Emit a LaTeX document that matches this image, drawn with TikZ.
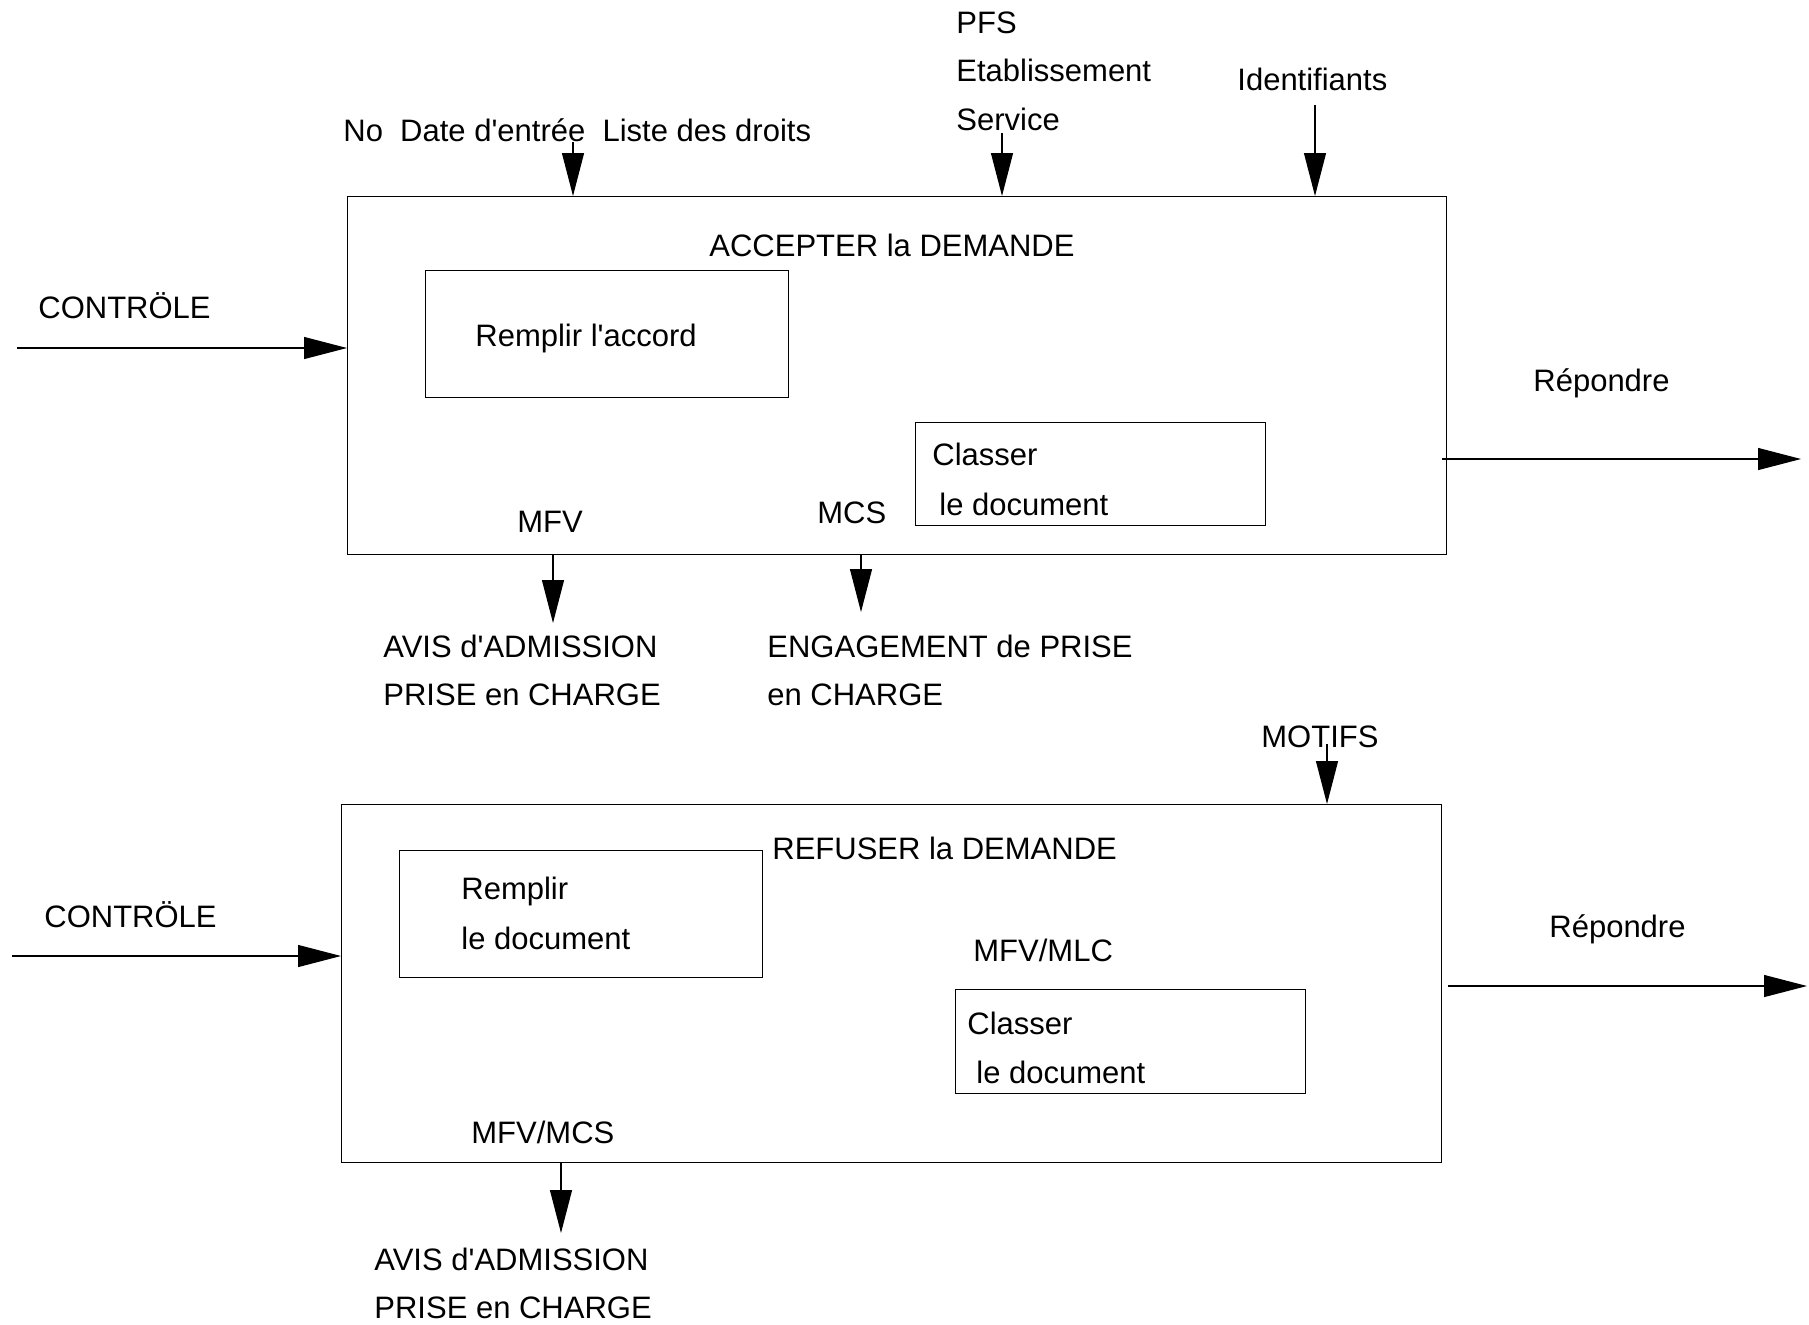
\documentclass[tikz,border=0pt]{standalone}
\usepackage{fontspec}
\setmainfont{Liberation Sans}[Ligatures=TeXOff]
\usetikzlibrary{arrows.meta}
\begin{document}
\begin{tikzpicture}[x=0.5pt,y=-0.5pt,
  font=\fontsize{15.5pt}{18pt}\selectfont,
  lbl/.style={anchor=base west,inner sep=0pt},
  box/.style={draw,line width=0.6pt,rectangle,anchor=north west,inner sep=0pt},
  flow/.style={line width=0.6pt,-{Triangle[length=21.5pt,width=11pt]}}]
\useasboundingbox (0,0) rectangle (1809,1324);

% ---------- Top activity ----------
\node[box,minimum width=549.5pt,minimum height=179pt] (A) at (347,196) {};
\node[box,minimum width=181.5pt,minimum height=63.5pt] (A1) at (425,270) {};
\node[box,minimum width=175pt,minimum height=51.5pt] (A2) at (915,422) {};

\node[lbl] (accT) at (709,256) {ACCEPTER la DEMANDE};
\node[lbl] (a1T) at (475,346) {Remplir l'accord};
\node[lbl] (a2T1) at (932,465) {Classer};
\node[lbl] (a2T2) at (939,515) {le document};

\node[lbl] (ctl1) at (38,318) {CONTRÖLE};
\node[lbl] (in1) at (343,141) {No\ \ Date d'entrée\ \ Liste des droits};
\node[lbl] (pfs) at (956,33) {PFS};
\node[lbl] (etab) at (956,81) {Etablissement};
\node[lbl] (serv) at (956,130) {Service};
\node[lbl] (ident) at (1237,90) {Identifiants};
\node[lbl] (rep1) at (1533,391) {Répondre};
\node[lbl] (mfv) at (517,532) {MFV};
\node[lbl] (mcs) at (817,523) {MCS};
\node[lbl] (avis1a) at (383,657) {AVIS d'ADMISSION};
\node[lbl] (avis1b) at (383,705) {PRISE en CHARGE};
\node[lbl] (eng1) at (767,657) {ENGAGEMENT de PRISE};
\node[lbl] (eng2) at (767,705) {en CHARGE};

\coordinate (c1s) at (17,348);   \coordinate (c1e) at (347,348);
\coordinate (i1s) at (573,142);  \coordinate (i1e) at (573,196);
\coordinate (i2s) at (1002,133); \coordinate (i2e) at (1002,196);
\coordinate (i3s) at (1315,105); \coordinate (i3e) at (1315,196);
\coordinate (r1s) at (1442,459); \coordinate (r1e) at (1801,459);
\coordinate (o1s) at (553,554);  \coordinate (o1e) at (553,623);
\coordinate (o2s) at (861,554);  \coordinate (o2e) at (861,612);

\draw[flow] (c1s) -- (c1e);
\draw[flow] (i1s) -- (i1e);
\draw[flow] (i2s) -- (i2e);
\draw[flow] (i3s) -- (i3e);
\draw[flow] (r1s) -- (r1e);
\draw[flow] (o1s) -- (o1e);
\draw[flow] (o2s) -- (o2e);

% ---------- Bottom activity ----------
\node[box,minimum width=550pt,minimum height=179pt] (B) at (341,804) {};
\node[box,minimum width=181.5pt,minimum height=63.5pt] (B1) at (399,850) {};
\node[box,minimum width=175pt,minimum height=52pt] (B2) at (955,989) {};

\node[lbl] (refT) at (772,859) {REFUSER la DEMANDE};
\node[lbl] (b1T1) at (461,899) {Remplir};
\node[lbl] (b1T2) at (461,949) {le document};
\node[lbl] (mlc) at (973,961) {MFV/MLC};
\node[lbl] (b2T1) at (967,1034) {Classer};
\node[lbl] (b2T2) at (976,1083) {le document};

\node[lbl] (ctl2) at (44,927) {CONTRÖLE};
\node[lbl] (motifs) at (1261,747) {MOTIFS};
\node[lbl] (rep2) at (1549,937) {Répondre};
\node[lbl] (mfvmcs) at (471,1143) {MFV/MCS};
\node[lbl] (avis2a) at (374,1270) {AVIS d'ADMISSION};
\node[lbl] (avis2b) at (374,1318) {PRISE en CHARGE};

\coordinate (c2s) at (12,956);   \coordinate (c2e) at (341,956);
\coordinate (m1s) at (1327,744); \coordinate (m1e) at (1327,804);
\coordinate (r2s) at (1448,986); \coordinate (r2e) at (1807,986);
\coordinate (o3s) at (561,1162); \coordinate (o3e) at (561,1233);

\draw[flow] (c2s) -- (c2e);
\draw[flow] (m1s) -- (m1e);
\draw[flow] (r2s) -- (r2e);
\draw[flow] (o3s) -- (o3e);
\end{tikzpicture}
\end{document}
